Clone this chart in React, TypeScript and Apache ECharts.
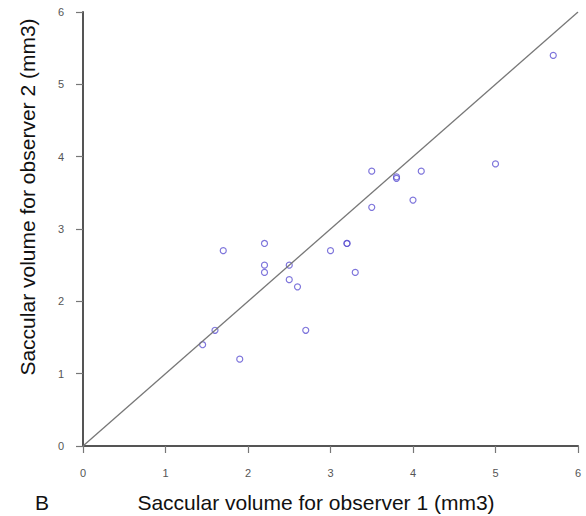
import React, { useEffect, useRef } from "react";
import * as echarts from "echarts";

const observer1 = [1.45, 1.6, 1.7, 1.9, 2.2, 2.2, 2.2, 2.5, 2.5, 2.6, 2.7, 3.0, 3.2, 3.2, 3.3, 3.5, 3.5, 3.8, 3.8, 4.0, 4.1, 5.0, 5.7];
const observer2 = [1.4, 1.6, 2.7, 1.2, 2.8, 2.5, 2.4, 2.5, 2.3, 2.2, 1.6, 2.7, 2.8, 2.8, 2.4, 3.8, 3.3, 3.7, 3.72, 3.4, 3.8, 3.9, 5.4];
const identityLine = [[0, 0], [6, 6]];
const xTitle = "Saccular volume for observer 1 (mm3)";
const yTitle = "Saccular volume for observer 2 (mm3)";
const panelLabel = "B";

const FONT = "Liberation Sans, Arial, sans-serif";

export default function App() {
  const ref = useRef<HTMLDivElement>(null);
  useEffect(() => {
    if (!ref.current) return;
    const chart = echarts.init(ref.current, null, { renderer: "svg" });
    const axisCommon = {
      type: "value" as const,
      min: 0,
      max: 6,
      interval: 1,
      splitLine: { show: false },
      axisLine: { show: true, lineStyle: { color: "#555", width: 2 } },
      axisTick: { show: true, length: 7, lineStyle: { color: "#777", width: 1.2 } },
      axisLabel: { color: "#555", fontSize: 11, fontFamily: FONT },
    };
    chart.setOption({
      animation: false,
      backgroundColor: "#fff",
      grid: { left: 83, right: 8, top: 12, bottom: 70 },
      xAxis: { ...axisCommon, axisLabel: { ...axisCommon.axisLabel, margin: 21 } },
      yAxis: { ...axisCommon, axisLabel: { ...axisCommon.axisLabel, margin: 19 } },
      series: [
        {
          type: "line",
          data: identityLine,
          symbol: "none",
          lineStyle: { color: "#777", width: 1.3 },
          silent: true,
        },
        {
          type: "scatter",
          data: observer1.map((x, i) => [x, observer2[i]]),
          symbol: "circle",
          symbolSize: 6,
          itemStyle: { color: "transparent", borderColor: "#5e52d2", borderWidth: 1.2 },
        },
      ],
      graphic: [
        {
          type: "text",
          x: 316,
          y: 502,
          style: {
            text: xTitle,
            fontSize: 21,
            fontFamily: FONT,
            fill: "#111",
            textAlign: "center",
            textVerticalAlign: "middle",
          },
        },
        {
          type: "text",
          x: 27,
          y: 197,
          rotation: Math.PI / 2,
          style: {
            text: yTitle,
            fontSize: 21,
            fontFamily: FONT,
            fill: "#111",
            textAlign: "center",
            textVerticalAlign: "middle",
          },
        },
        {
          type: "text",
          x: 42,
          y: 502,
          style: {
            text: panelLabel,
            fontSize: 21,
            fontFamily: FONT,
            fill: "#111",
            textAlign: "center",
            textVerticalAlign: "middle",
          },
        },
      ],
    });
    return () => chart.dispose();
  }, []);
  return (
    <div
      ref={ref}
      style={{ position: "fixed", left: 0, top: 0, width: 586, height: 516, background: "#fff" }}
    />
  );
}
